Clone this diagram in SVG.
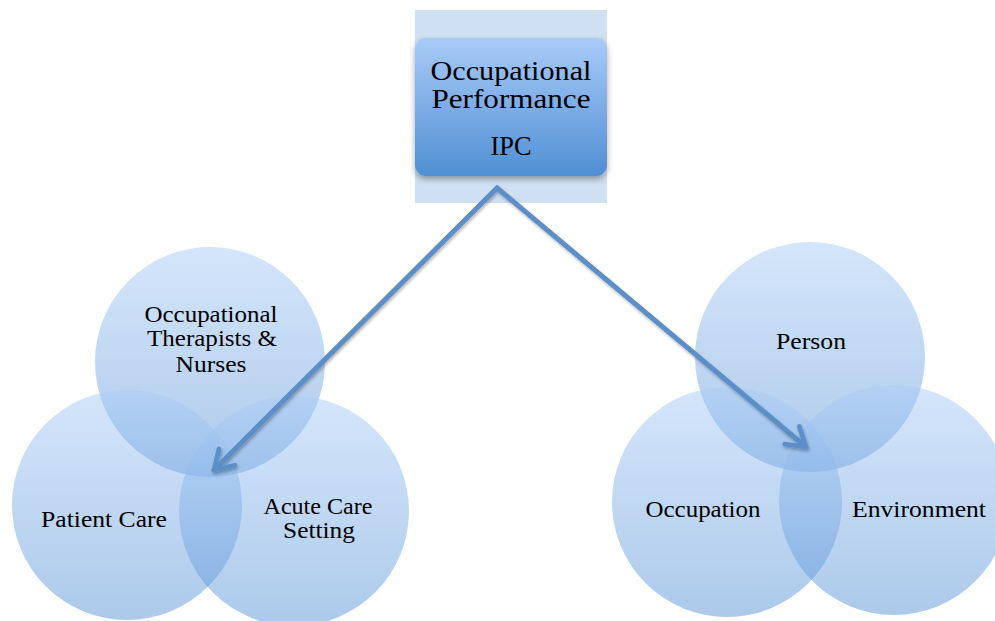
<svg xmlns="http://www.w3.org/2000/svg" width="995" height="621" viewBox="0 0 995 621">
<defs>
<linearGradient id="boxg" x1="0" y1="0" x2="0" y2="1">
<stop offset="0" stop-color="#a9cbf8"/>
<stop offset="1" stop-color="#4f8fd3"/>
</linearGradient>
<linearGradient id="cg" x1="0" y1="0" x2="0" y2="1">
<stop offset="0" stop-color="#aacdf7"/>
<stop offset="1" stop-color="#5a94d6"/>
</linearGradient>
<filter id="sh" x="-20%" y="-20%" width="140%" height="150%">
<feDropShadow dx="0" dy="3" stdDeviation="3" flood-color="#000" flood-opacity="0.35"/>
</filter>
<filter id="ash" x="-10%" y="-10%" width="120%" height="120%">
<feDropShadow dx="1" dy="2" stdDeviation="1.5" flood-color="#000" flood-opacity="0.3"/>
</filter>
<marker id="ah" viewBox="0 0 12 12" refX="10" refY="6" markerWidth="5.5" markerHeight="5.5" orient="auto" markerUnits="strokeWidth">
<path d="M2,1 L10,6 L2,11" fill="none" stroke="#5b8fc7" stroke-width="2" stroke-linecap="round" stroke-linejoin="round"/>
</marker>
</defs>
<style>
.c{fill:url(#cg);fill-opacity:0.5}
.t{font-family:"Liberation Serif","DejaVu Serif",serif;font-size:23px;fill:#000;text-anchor:middle}
.tb{font-family:"Liberation Serif","DejaVu Serif",serif;font-size:27px;fill:#000;text-anchor:middle}
.a{fill:none;stroke:#5b8fc7;stroke-width:5;stroke-linecap:round;stroke-linejoin:miter}
</style>
<rect width="995" height="621" fill="#fff"/>
<g id="ipc">
<rect x="415" y="10" width="192" height="193" fill="#cfe0f3"/>
<rect x="415" y="38" width="192" height="138" rx="11" fill="url(#boxg)" filter="url(#sh)"/>
<text class="tb" x="511" y="80" textLength="161" lengthAdjust="spacingAndGlyphs">Occupational</text>
<text class="tb" x="511" y="108" textLength="159" lengthAdjust="spacingAndGlyphs">Performance</text>
<text class="tb" x="511" y="155" textLength="41" lengthAdjust="spacingAndGlyphs">IPC</text>
</g>
<g id="left-venn">
<g id="otn"><circle class="c" cx="210" cy="362" r="115"/></g>
<g id="patient-care"><circle class="c" cx="127" cy="505" r="115"/></g>
<g id="acute-care"><circle class="c" cx="294" cy="511" r="115"/></g>
<text class="t" x="211" y="322" textLength="133" lengthAdjust="spacingAndGlyphs">Occupational</text>
<text class="t" x="212" y="346" textLength="130" lengthAdjust="spacingAndGlyphs">Therapists &amp;</text>
<text class="t" x="211" y="372" textLength="71" lengthAdjust="spacingAndGlyphs">Nurses</text>
<text class="t" x="104" y="527" textLength="126" lengthAdjust="spacingAndGlyphs">Patient  Care</text>
<text class="t" x="318" y="514" textLength="109" lengthAdjust="spacingAndGlyphs">Acute Care</text>
<text class="t" x="319" y="538" textLength="72" lengthAdjust="spacingAndGlyphs">Setting</text>
</g>
<g id="right-venn">
<g id="person"><circle class="c" cx="810" cy="357" r="115"/></g>
<g id="occupation"><circle class="c" cx="727" cy="502" r="115"/></g>
<g id="environment"><circle class="c" cx="894" cy="500" r="115"/></g>
<text class="t" x="811" y="349" textLength="70" lengthAdjust="spacingAndGlyphs">Person</text>
<text class="t" x="703" y="517" textLength="115" lengthAdjust="spacingAndGlyphs">Occupation</text>
<text class="t" x="919" y="517" textLength="134" lengthAdjust="spacingAndGlyphs">Environment</text>
</g>
<g id="connectors" filter="url(#ash)">
<path class="a" d="M497,188 L214,470" marker-end="url(#ah)"/>
<path class="a" d="M497,188 L806,447" marker-end="url(#ah)"/>
</g>
</svg>
